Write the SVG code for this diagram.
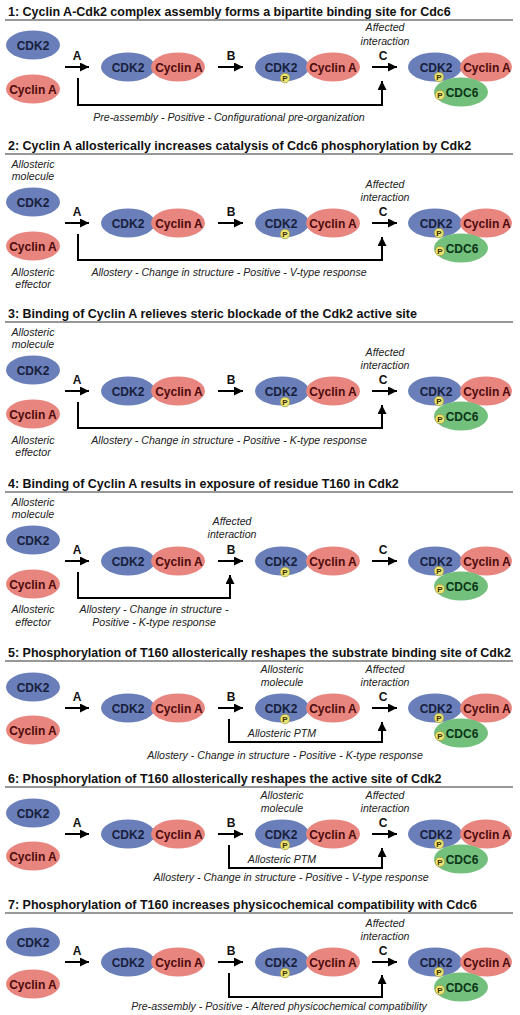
<svg xmlns="http://www.w3.org/2000/svg" width="520" height="1015" viewBox="0 0 520 1015">
<style>
.k{fill:#6a7fb9}
.y{fill:#e8857e}
.g{fill:#72c07c}
.tk{font:bold 12px 'Liberation Sans',Arial,sans-serif;fill:#17203c;text-anchor:middle}
.ty{font:bold 12px 'Liberation Sans',Arial,sans-serif;fill:#4e0b0b;text-anchor:middle}
.tg{font:bold 12px 'Liberation Sans',Arial,sans-serif;fill:#0b3416;text-anchor:middle}
.ttl{font:bold 12.5px 'Liberation Sans',Arial,sans-serif;fill:#111}
.it{font:italic 10.6px 'Liberation Sans',Arial,sans-serif;fill:#222;text-anchor:middle}
.ab{font:bold 12px 'Liberation Sans',Arial,sans-serif;fill:#111;text-anchor:middle}
.ul{stroke:#333;stroke-width:1.2}
.c{stroke:#000;stroke-width:2;fill:none}
.pc{fill:#ebe470;stroke:#8d8a3a;stroke-width:0.6}
.pt{font:bold 8px 'Liberation Sans',Arial,sans-serif;fill:#3a2c00;text-anchor:middle}
</style>
<defs>
<marker id="ah" viewBox="0 0 10 10" markerUnits="userSpaceOnUse" markerWidth="10" markerHeight="9" refX="10" refY="5" orient="auto"><path d="M0,0 L10,5 L0,10 z" fill="#000"/></marker>
</defs>

<!-- Panel 1 -->
<g id="p1-title"><text class="ttl" x="8" y="16">1: Cyclin A-Cdk2 complex assembly forms a bipartite binding site for Cdc6</text><line class="ul" x1="5" y1="20" x2="513" y2="20"/></g>
<g id="p1-cdk2"><ellipse class="k" cx="33" cy="45" rx="27" ry="14.5"/><text class="tk" x="33" y="49.5">CDK2</text></g>
<g id="p1-cyca"><ellipse class="y" cx="33" cy="89" rx="27" ry="14.5"/><text class="ty" x="33" y="93.5">Cyclin A</text></g>
<g id="p1-complex"><ellipse class="k" cx="128" cy="67" rx="27" ry="14.5"/><ellipse class="y" cx="178" cy="67" rx="27" ry="14.5"/><text class="tk" x="128" y="71.5">CDK2</text><text class="ty" x="179" y="71.5">Cyclin A</text></g>
<g id="p1-pcomplex"><ellipse class="k" cx="282" cy="67" rx="27" ry="14.5"/><ellipse class="y" cx="333" cy="67" rx="27" ry="14.5"/><text class="tk" x="281" y="71.5">CDK2</text><text class="ty" x="333" y="71.5">Cyclin A</text><circle class="pc" cx="285" cy="78" r="4.8"/><text class="pt" x="285" y="80.8">P</text></g>
<g id="p1-ternary"><ellipse class="k" cx="435" cy="67" rx="27" ry="14.5"/><ellipse class="y" cx="486" cy="67" rx="26" ry="14.5"/><ellipse class="g" cx="461" cy="92" rx="27" ry="14.5"/><text class="tk" x="436" y="71.5">CDK2</text><text class="ty" x="487" y="71.5">Cyclin A</text><text class="tg" x="462" y="96.5">CDC6</text><circle class="pc" cx="439" cy="77" r="4.8"/><text class="pt" x="439" y="79.8">P</text><circle class="pc" cx="440" cy="95" r="4.8"/><text class="pt" x="440" y="97.8">P</text></g>
<g id="p1-texts"><text class="ab" x="77" y="60">A</text><text class="ab" x="231" y="60">B</text><text class="ab" x="383" y="60">C</text><text class="it" x="385" y="31">Affected</text><text class="it" x="385" y="45">interaction</text><text class="it" x="229" y="121">Pre-assembly - Positive - Configurational pre-organization</text></g>

<!-- Panel 2 -->
<g id="p2-title"><text class="ttl" x="8" y="150">2: Cyclin A allosterically increases catalysis of Cdc6 phosphorylation by Cdk2</text><line class="ul" x1="5" y1="154" x2="513" y2="154"/></g>
<g id="p2-cdk2"><ellipse class="k" cx="33" cy="202" rx="27" ry="14.5"/><text class="tk" x="33" y="206.5">CDK2</text></g>
<g id="p2-cyca"><ellipse class="y" cx="33" cy="246" rx="27" ry="14.5"/><text class="ty" x="33" y="250.5">Cyclin A</text></g>
<g id="p2-complex"><ellipse class="k" cx="128" cy="223" rx="27" ry="14.5"/><ellipse class="y" cx="178" cy="223" rx="27" ry="14.5"/><text class="tk" x="128" y="227.5">CDK2</text><text class="ty" x="179" y="227.5">Cyclin A</text></g>
<g id="p2-pcomplex"><ellipse class="k" cx="282" cy="223" rx="27" ry="14.5"/><ellipse class="y" cx="333" cy="223" rx="27" ry="14.5"/><text class="tk" x="281" y="227.5">CDK2</text><text class="ty" x="333" y="227.5">Cyclin A</text><circle class="pc" cx="285" cy="234" r="4.8"/><text class="pt" x="285" y="236.8">P</text></g>
<g id="p2-ternary"><ellipse class="k" cx="435" cy="223" rx="27" ry="14.5"/><ellipse class="y" cx="486" cy="223" rx="26" ry="14.5"/><ellipse class="g" cx="461" cy="248" rx="27" ry="14.5"/><text class="tk" x="436" y="227.5">CDK2</text><text class="ty" x="487" y="227.5">Cyclin A</text><text class="tg" x="462" y="252.5">CDC6</text><circle class="pc" cx="439" cy="233" r="4.8"/><text class="pt" x="439" y="235.8">P</text><circle class="pc" cx="440" cy="251" r="4.8"/><text class="pt" x="440" y="253.8">P</text></g>
<g id="p2-texts"><text class="it" x="33" y="168">Allosteric</text><text class="it" x="33" y="180">molecule</text><text class="it" x="33" y="276">Allosteric</text><text class="it" x="33" y="288">effector</text><text class="ab" x="77" y="216">A</text><text class="ab" x="231" y="216">B</text><text class="ab" x="383" y="216">C</text><text class="it" x="385" y="188">Affected</text><text class="it" x="385" y="201">interaction</text><text class="it" x="229" y="276">Allostery - Change in structure - Positive - V-type response</text></g>

<!-- Panel 3 -->
<g id="p3-title"><text class="ttl" x="8" y="318">3: Binding of Cyclin A relieves steric blockade of the Cdk2 active site</text><line class="ul" x1="5" y1="322" x2="513" y2="322"/></g>
<g id="p3-cdk2"><ellipse class="k" cx="33" cy="370" rx="27" ry="14.5"/><text class="tk" x="33" y="374.5">CDK2</text></g>
<g id="p3-cyca"><ellipse class="y" cx="33" cy="414" rx="27" ry="14.5"/><text class="ty" x="33" y="418.5">Cyclin A</text></g>
<g id="p3-complex"><ellipse class="k" cx="128" cy="391" rx="27" ry="14.5"/><ellipse class="y" cx="178" cy="391" rx="27" ry="14.5"/><text class="tk" x="128" y="395.5">CDK2</text><text class="ty" x="179" y="395.5">Cyclin A</text></g>
<g id="p3-pcomplex"><ellipse class="k" cx="282" cy="391" rx="27" ry="14.5"/><ellipse class="y" cx="333" cy="391" rx="27" ry="14.5"/><text class="tk" x="281" y="395.5">CDK2</text><text class="ty" x="333" y="395.5">Cyclin A</text><circle class="pc" cx="285" cy="402" r="4.8"/><text class="pt" x="285" y="404.8">P</text></g>
<g id="p3-ternary"><ellipse class="k" cx="435" cy="391" rx="27" ry="14.5"/><ellipse class="y" cx="486" cy="391" rx="26" ry="14.5"/><ellipse class="g" cx="461" cy="416" rx="27" ry="14.5"/><text class="tk" x="436" y="395.5">CDK2</text><text class="ty" x="487" y="395.5">Cyclin A</text><text class="tg" x="462" y="420.5">CDC6</text><circle class="pc" cx="439" cy="401" r="4.8"/><text class="pt" x="439" y="403.8">P</text><circle class="pc" cx="440" cy="419" r="4.8"/><text class="pt" x="440" y="421.8">P</text></g>
<g id="p3-texts"><text class="it" x="33" y="336">Allosteric</text><text class="it" x="33" y="348">molecule</text><text class="it" x="33" y="444">Allosteric</text><text class="it" x="33" y="456">effector</text><text class="ab" x="77" y="384">A</text><text class="ab" x="231" y="384">B</text><text class="ab" x="383" y="384">C</text><text class="it" x="385" y="356">Affected</text><text class="it" x="385" y="369">interaction</text><text class="it" x="229" y="444">Allostery - Change in structure - Positive - K-type response</text></g>

<!-- Panel 4 -->
<g id="p4-title"><text class="ttl" x="8" y="488">4: Binding of Cyclin A results in exposure of residue T160 in Cdk2</text><line class="ul" x1="5" y1="492" x2="513" y2="492"/></g>
<g id="p4-cdk2"><ellipse class="k" cx="33" cy="540" rx="27" ry="14.5"/><text class="tk" x="33" y="544.5">CDK2</text></g>
<g id="p4-cyca"><ellipse class="y" cx="33" cy="584" rx="27" ry="14.5"/><text class="ty" x="33" y="588.5">Cyclin A</text></g>
<g id="p4-complex"><ellipse class="k" cx="128" cy="561" rx="27" ry="14.5"/><ellipse class="y" cx="178" cy="561" rx="27" ry="14.5"/><text class="tk" x="128" y="565.5">CDK2</text><text class="ty" x="179" y="565.5">Cyclin A</text></g>
<g id="p4-pcomplex"><ellipse class="k" cx="282" cy="561" rx="27" ry="14.5"/><ellipse class="y" cx="333" cy="561" rx="27" ry="14.5"/><text class="tk" x="281" y="565.5">CDK2</text><text class="ty" x="333" y="565.5">Cyclin A</text><circle class="pc" cx="285" cy="572" r="4.8"/><text class="pt" x="285" y="574.8">P</text></g>
<g id="p4-ternary"><ellipse class="k" cx="435" cy="561" rx="27" ry="14.5"/><ellipse class="y" cx="486" cy="561" rx="26" ry="14.5"/><ellipse class="g" cx="461" cy="586" rx="27" ry="14.5"/><text class="tk" x="436" y="565.5">CDK2</text><text class="ty" x="487" y="565.5">Cyclin A</text><text class="tg" x="462" y="590.5">CDC6</text><circle class="pc" cx="439" cy="571" r="4.8"/><text class="pt" x="439" y="573.8">P</text><circle class="pc" cx="440" cy="589" r="4.8"/><text class="pt" x="440" y="591.8">P</text></g>
<g id="p4-texts"><text class="it" x="33" y="506">Allosteric</text><text class="it" x="33" y="518">molecule</text><text class="it" x="33" y="613">Allosteric</text><text class="it" x="33" y="626">effector</text><text class="ab" x="77" y="554">A</text><text class="ab" x="231" y="554">B</text><text class="ab" x="383" y="554">C</text><text class="it" x="232" y="525">Affected</text><text class="it" x="232" y="538">interaction</text><text class="it" x="154" y="613">Allostery - Change in structure -</text><text class="it" x="154" y="626">Positive - K-type response</text></g>

<!-- Panel 5 -->
<g id="p5-title"><text class="ttl" x="8" y="657">5: Phosphorylation of T160 allosterically reshapes the substrate binding site of Cdk2</text><line class="ul" x1="5" y1="661" x2="513" y2="661"/></g>
<g id="p5-cdk2"><ellipse class="k" cx="33" cy="687" rx="27" ry="14.5"/><text class="tk" x="33" y="691.5">CDK2</text></g>
<g id="p5-cyca"><ellipse class="y" cx="33" cy="730" rx="27" ry="14.5"/><text class="ty" x="33" y="734.5">Cyclin A</text></g>
<g id="p5-complex"><ellipse class="k" cx="128" cy="708" rx="27" ry="14.5"/><ellipse class="y" cx="178" cy="708" rx="27" ry="14.5"/><text class="tk" x="128" y="712.5">CDK2</text><text class="ty" x="179" y="712.5">Cyclin A</text></g>
<g id="p5-pcomplex"><ellipse class="k" cx="282" cy="708" rx="27" ry="14.5"/><ellipse class="y" cx="333" cy="708" rx="27" ry="14.5"/><text class="tk" x="281" y="712.5">CDK2</text><text class="ty" x="333" y="712.5">Cyclin A</text><circle class="pc" cx="285" cy="719" r="4.8"/><text class="pt" x="285" y="721.8">P</text></g>
<g id="p5-ternary"><ellipse class="k" cx="435" cy="708" rx="27" ry="14.5"/><ellipse class="y" cx="486" cy="708" rx="26" ry="14.5"/><ellipse class="g" cx="461" cy="733" rx="27" ry="14.5"/><text class="tk" x="436" y="712.5">CDK2</text><text class="ty" x="487" y="712.5">Cyclin A</text><text class="tg" x="462" y="737.5">CDC6</text><circle class="pc" cx="439" cy="718" r="4.8"/><text class="pt" x="439" y="720.8">P</text><circle class="pc" cx="440" cy="736" r="4.8"/><text class="pt" x="440" y="738.8">P</text></g>
<g id="p5-texts"><text class="ab" x="77" y="701">A</text><text class="ab" x="231" y="701">B</text><text class="ab" x="383" y="701">C</text><text class="it" x="282" y="673">Allosteric</text><text class="it" x="282" y="686">molecule</text><text class="it" x="385" y="673">Affected</text><text class="it" x="385" y="686">interaction</text><text class="it" x="282" y="737">Allosteric PTM</text><text class="it" x="285" y="759">Allostery - Change in structure - Positive - K-type response</text></g>

<!-- Panel 6 -->
<g id="p6-title"><text class="ttl" x="8" y="783">6: Phosphorylation of T160 allosterically reshapes the active site of Cdk2</text><line class="ul" x1="5" y1="787" x2="513" y2="787"/></g>
<g id="p6-cdk2"><ellipse class="k" cx="33" cy="813" rx="27" ry="14.5"/><text class="tk" x="33" y="817.5">CDK2</text></g>
<g id="p6-cyca"><ellipse class="y" cx="33" cy="856" rx="27" ry="14.5"/><text class="ty" x="33" y="860.5">Cyclin A</text></g>
<g id="p6-complex"><ellipse class="k" cx="128" cy="834" rx="27" ry="14.5"/><ellipse class="y" cx="178" cy="834" rx="27" ry="14.5"/><text class="tk" x="128" y="838.5">CDK2</text><text class="ty" x="179" y="838.5">Cyclin A</text></g>
<g id="p6-pcomplex"><ellipse class="k" cx="282" cy="834" rx="27" ry="14.5"/><ellipse class="y" cx="333" cy="834" rx="27" ry="14.5"/><text class="tk" x="281" y="838.5">CDK2</text><text class="ty" x="333" y="838.5">Cyclin A</text><circle class="pc" cx="285" cy="845" r="4.8"/><text class="pt" x="285" y="847.8">P</text></g>
<g id="p6-ternary"><ellipse class="k" cx="435" cy="834" rx="27" ry="14.5"/><ellipse class="y" cx="486" cy="834" rx="26" ry="14.5"/><ellipse class="g" cx="461" cy="859" rx="27" ry="14.5"/><text class="tk" x="436" y="838.5">CDK2</text><text class="ty" x="487" y="838.5">Cyclin A</text><text class="tg" x="462" y="863.5">CDC6</text><circle class="pc" cx="439" cy="844" r="4.8"/><text class="pt" x="439" y="846.8">P</text><circle class="pc" cx="440" cy="862" r="4.8"/><text class="pt" x="440" y="864.8">P</text></g>
<g id="p6-texts"><text class="ab" x="77" y="827">A</text><text class="ab" x="231" y="827">B</text><text class="ab" x="383" y="827">C</text><text class="it" x="282" y="799">Allosteric</text><text class="it" x="282" y="812">molecule</text><text class="it" x="385" y="799">Affected</text><text class="it" x="385" y="812">interaction</text><text class="it" x="282" y="863">Allosteric PTM</text><text class="it" x="291" y="881">Allostery - Change in structure - Positive - V-type response</text></g>

<!-- Panel 7 -->
<g id="p7-title"><text class="ttl" x="8" y="909">7: Phosphorylation of T160 increases physicochemical compatibility with Cdc6</text><line class="ul" x1="5" y1="913" x2="513" y2="913"/></g>
<g id="p7-cdk2"><ellipse class="k" cx="33" cy="942" rx="27" ry="14.5"/><text class="tk" x="33" y="946.5">CDK2</text></g>
<g id="p7-cyca"><ellipse class="y" cx="33" cy="984" rx="27" ry="14.5"/><text class="ty" x="33" y="988.5">Cyclin A</text></g>
<g id="p7-complex"><ellipse class="k" cx="128" cy="962" rx="27" ry="14.5"/><ellipse class="y" cx="178" cy="962" rx="27" ry="14.5"/><text class="tk" x="128" y="966.5">CDK2</text><text class="ty" x="179" y="966.5">Cyclin A</text></g>
<g id="p7-pcomplex"><ellipse class="k" cx="282" cy="962" rx="27" ry="14.5"/><ellipse class="y" cx="333" cy="962" rx="27" ry="14.5"/><text class="tk" x="281" y="966.5">CDK2</text><text class="ty" x="333" y="966.5">Cyclin A</text><circle class="pc" cx="285" cy="973" r="4.8"/><text class="pt" x="285" y="975.8">P</text></g>
<g id="p7-ternary"><ellipse class="k" cx="435" cy="962" rx="27" ry="14.5"/><ellipse class="y" cx="486" cy="962" rx="26" ry="14.5"/><ellipse class="g" cx="461" cy="987" rx="27" ry="14.5"/><text class="tk" x="436" y="966.5">CDK2</text><text class="ty" x="487" y="966.5">Cyclin A</text><text class="tg" x="462" y="991.5">CDC6</text><circle class="pc" cx="439" cy="972" r="4.8"/><text class="pt" x="439" y="974.8">P</text><circle class="pc" cx="440" cy="990" r="4.8"/><text class="pt" x="440" y="992.8">P</text></g>
<g id="p7-texts"><text class="ab" x="77" y="955">A</text><text class="ab" x="231" y="955">B</text><text class="ab" x="383" y="955">C</text><text class="it" x="385" y="927">Affected</text><text class="it" x="385" y="940">interaction</text><text class="it" x="279" y="1010">Pre-assembly - Positive - Altered physicochemical compatibility</text></g>

<!-- Connectors -->
<g id="connectors" class="c">
<line x1="65" y1="67" x2="89" y2="67" marker-end="url(#ah)"/>
<line x1="218" y1="67" x2="243" y2="67" marker-end="url(#ah)"/>
<line x1="372" y1="67" x2="397" y2="67" marker-end="url(#ah)"/>
<polyline points="78,78 78,105 382,105 382,81" marker-end="url(#ah)"/>

<line x1="65" y1="223" x2="89" y2="223" marker-end="url(#ah)"/>
<line x1="218" y1="223" x2="243" y2="223" marker-end="url(#ah)"/>
<line x1="372" y1="223" x2="397" y2="223" marker-end="url(#ah)"/>
<polyline points="78,234 78,260 382,260 382,237" marker-end="url(#ah)"/>

<line x1="65" y1="391" x2="89" y2="391" marker-end="url(#ah)"/>
<line x1="218" y1="391" x2="243" y2="391" marker-end="url(#ah)"/>
<line x1="372" y1="391" x2="397" y2="391" marker-end="url(#ah)"/>
<polyline points="78,402 78,428 382,428 382,405" marker-end="url(#ah)"/>

<line x1="65" y1="561" x2="89" y2="561" marker-end="url(#ah)"/>
<line x1="218" y1="561" x2="243" y2="561" marker-end="url(#ah)"/>
<line x1="372" y1="561" x2="397" y2="561" marker-end="url(#ah)"/>
<polyline points="78,572 78,598 230,598 230,575" marker-end="url(#ah)"/>

<line x1="65" y1="708" x2="89" y2="708" marker-end="url(#ah)"/>
<line x1="218" y1="708" x2="243" y2="708" marker-end="url(#ah)"/>
<line x1="372" y1="708" x2="397" y2="708" marker-end="url(#ah)"/>
<polyline points="229,719 229,742 382,742 382,722" marker-end="url(#ah)"/>

<line x1="65" y1="834" x2="89" y2="834" marker-end="url(#ah)"/>
<line x1="218" y1="834" x2="243" y2="834" marker-end="url(#ah)"/>
<line x1="372" y1="834" x2="397" y2="834" marker-end="url(#ah)"/>
<polyline points="229,845 229,868 382,868 382,848" marker-end="url(#ah)"/>

<line x1="65" y1="962" x2="89" y2="962" marker-end="url(#ah)"/>
<line x1="218" y1="962" x2="243" y2="962" marker-end="url(#ah)"/>
<line x1="372" y1="962" x2="397" y2="962" marker-end="url(#ah)"/>
<polyline points="229,973 229,997 382,997 382,975" marker-end="url(#ah)"/>
</g>
</svg>
